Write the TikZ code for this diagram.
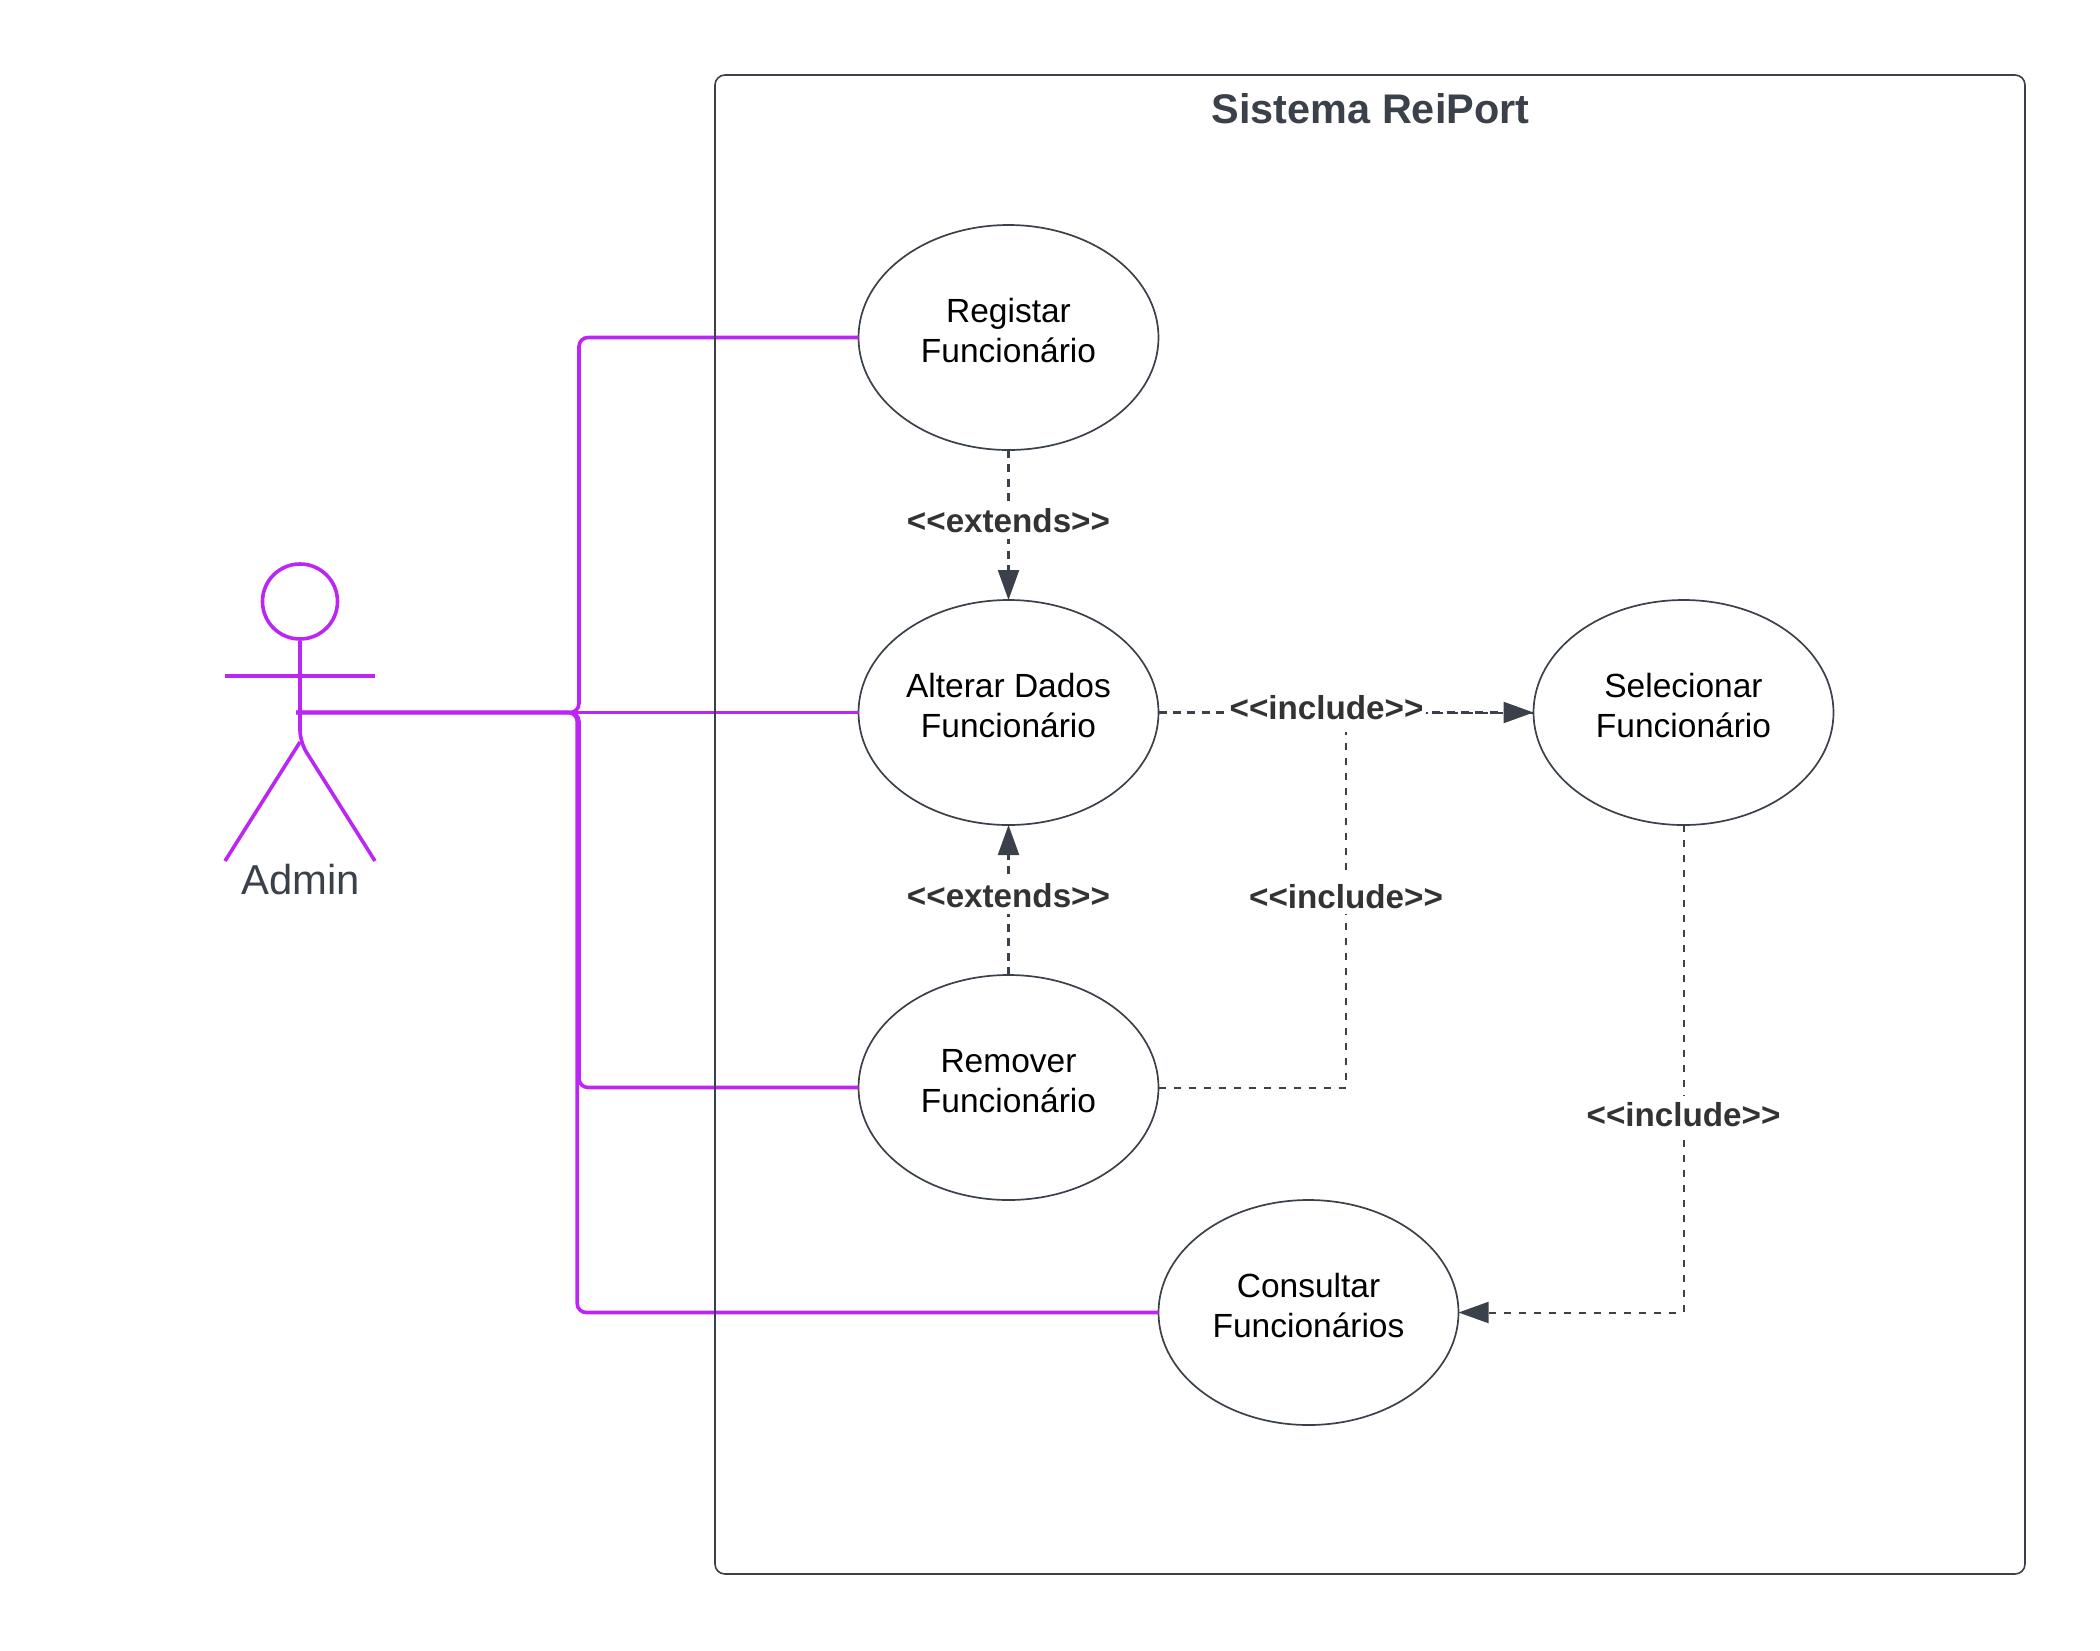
\documentclass[tikz,border=0pt]{standalone}
\usepackage{fontspec}
\setmainfont{Liberation Sans}
\usetikzlibrary{positioning,shapes.geometric,arrows.meta}
\definecolor{Ink}{RGB}{58, 65, 74}
\definecolor{LabelInk}{RGB}{51, 51, 51}
\definecolor{Actor}{RGB}{187, 38, 245}

\begin{document}
\begin{tikzpicture}[
    usecase/.style={ellipse, draw=Ink, line width=0.85pt, minimum width=150pt, minimum height=112.5pt,
                    inner sep=0pt, outer sep=0pt, align=center, font=\fontsize{16.75}{20}\selectfont, text=black},
    boundary/.style={rectangle, rounded corners=5pt, draw=Ink, line width=0.8pt,
                     minimum width=655pt, minimum height=749.5pt, inner sep=0pt},
    depend/.style={line width=1.1pt, Ink, dash pattern=on 4pt off 3.2pt},
    dependthin/.style={line width=1pt, Ink, dash pattern=on 3.6pt off 3.9pt},
    arr/.style={-{Triangle[length=15pt, width=10.5pt]}},
    rotulo/.style={fill=white, inner xsep=1.5pt, inner ysep=3pt, font=\fontsize{16.6}{20}\selectfont\bfseries, text=LabelInk},
    assoc/.style={line width=1.8pt, Actor, rounded corners=4.5pt},
    actorline/.style={line width=1.8pt, Actor},
    node distance=75pt,
]
\useasboundingbox (0pt,0pt) rectangle (1050pt,-825pt);

\node[usecase] (registar) at (504.25pt,-168.75pt) {Registar\\Funcionário\\[-13.3pt]};
\node[usecase, below=of registar] (alterar) {Alterar Dados\\Funcionário\\[-13.3pt]};
\node[usecase, below=of alterar] (remover) {Remover\\Funcionário\\[-13.3pt]};
\node[usecase, right=187.5pt of alterar] (selecionar) {Selecionar\\Funcionário\\[-13.3pt]};
\node[usecase, below=0pt of remover, xshift=150pt] (consultar) {Consultar\\Funcionários\\[-13.3pt]};

\node[circle, draw=Actor, line width=1.8pt, minimum size=37.5pt, inner sep=0pt] (head) at (150pt,-300.75pt) {};
\node[below=-1pt of head.south, xshift=0.4pt, yshift=-109.3pt, font=\fontsize{20.9}{24}\selectfont, text=Ink] (admin) {Admin};
\coordinate (shoulder) at (150pt,-338pt);
\coordinate (crotch) at (150pt,-371pt);
\coordinate (handL) at (112.5pt,-338pt);
\coordinate (handR) at (187.5pt,-338pt);
\coordinate (footL) at (112.5pt,-430.5pt);
\coordinate (footR) at (187.5pt,-430.5pt);
\coordinate (hip) at (148pt,-356.25pt);
\coordinate (busA) at (289.5pt,0pt);
\coordinate (busB) at (288.6pt,0pt);
\coordinate (juncao) at (673pt,-356.25pt);

\draw[actorline] (handL) -- (handR);
\draw[actorline, rounded corners=6pt] (head.south) -- (crotch) -- (footR);
\draw[actorline] (crotch) -- (footL);

\draw[assoc] (hip) -| (busA |- registar.west) -- (registar.west);
\draw[assoc] (hip) -- (alterar.west);
\draw[assoc] (hip) -| (busA |- remover.west) -- (remover.west);
\draw[assoc] (hip) -| (busB |- consultar.west) -- (consultar.west);

\draw[depend, arr] (registar) -- node[rotulo, pos=.47] (extA) {<{}<extends>{}>} (alterar);
\draw[depend, arr] (remover) -- node[rotulo, pos=.53] (extB) {<{}<extends>{}>} (alterar);
\draw[dependthin] (remover.east) -| node[rotulo, pos=.755] (incB) {<{}<include>{}>} (juncao);
\draw[dependthin] (juncao) -- (selecionar.west);
\draw[depend, arr] (alterar.east) -- node[rotulo, pos=.448, yshift=2.5pt, inner ysep=6pt] (incA) {<{}<include>{}>} (selecionar.west);
\draw[dependthin, arr] (selecionar.south) |- node[rotulo, pos=.297] (incC) {<{}<include>{}>} (consultar.east);

\node[boundary] (sistema) at (685pt,-412.25pt) {};
\node[below=6pt of sistema.north, xshift=0.3pt, font=\fontsize{20.7}{24}\selectfont\bfseries, text=Ink] (titulo) {Sistema ReiPort};
\end{tikzpicture}
\end{document}
